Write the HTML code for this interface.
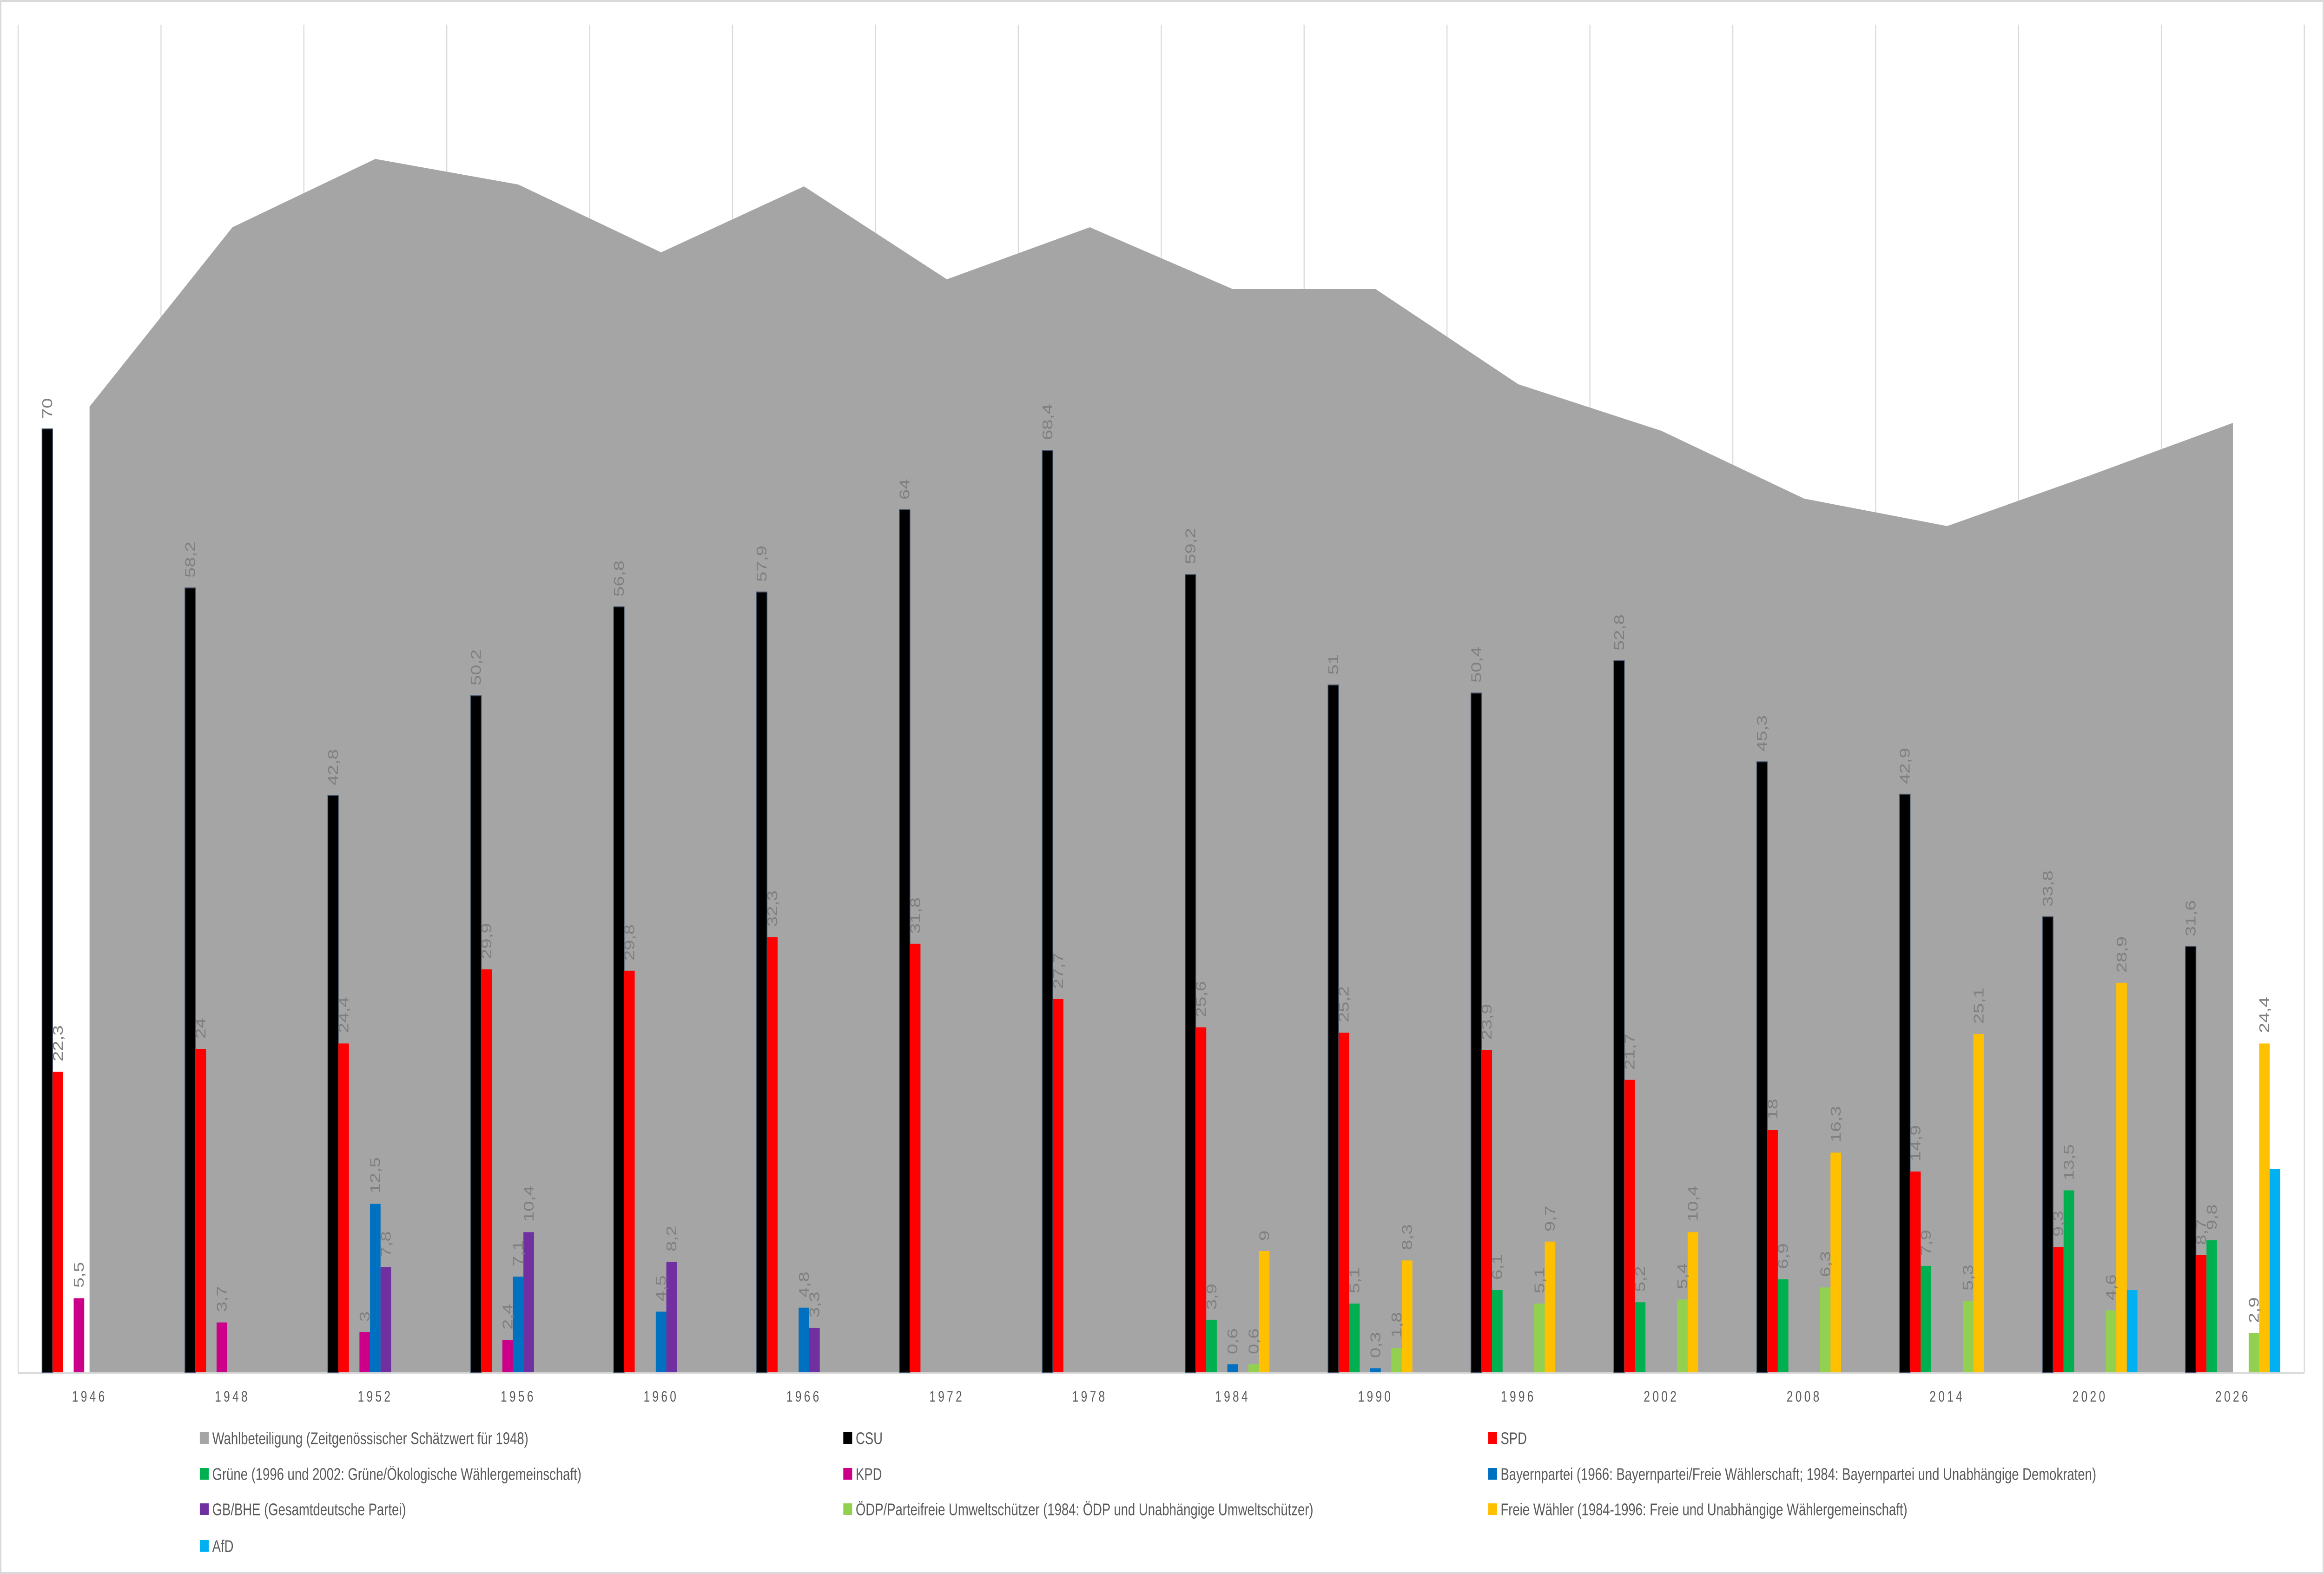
<!DOCTYPE html>
<html><head><meta charset="utf-8"><style>
html,body{margin:0;padding:0;background:#fff;overflow:hidden;width:100%;height:100%;}
svg{display:block;width:100vw;height:100vh;}
.l{font-family:"Liberation Sans",sans-serif;font-size:40px;fill:#7f7f7f;dominant-baseline:central;text-anchor:start;}
.ax{font-family:"Liberation Sans",sans-serif;font-size:32px;fill:#595959;text-anchor:middle;letter-spacing:7px;}
.lg{font-family:"Liberation Sans",sans-serif;font-size:36px;fill:#595959;dominant-baseline:central;}
</style></head><body>
<svg viewBox="0 0 6548 3387" preserveAspectRatio="none" xmlns="http://www.w3.org/2000/svg">
<rect x="2" y="2" width="6544" height="3383" fill="#fff" stroke="#d9d9d9" stroke-width="4"/>
<g stroke="#d9d9d9" stroke-width="3">
<line x1="51" y1="53" x2="51" y2="2953"/><line x1="453.6" y1="53" x2="453.6" y2="2953"/><line x1="856.2" y1="53" x2="856.2" y2="2953"/><line x1="1258.8" y1="53" x2="1258.8" y2="2953"/><line x1="1661.4" y1="53" x2="1661.4" y2="2953"/><line x1="2064" y1="53" x2="2064" y2="2953"/><line x1="2466.6" y1="53" x2="2466.6" y2="2953"/><line x1="2869.2" y1="53" x2="2869.2" y2="2953"/><line x1="3271.8" y1="53" x2="3271.8" y2="2953"/><line x1="3674.4" y1="53" x2="3674.4" y2="2953"/><line x1="4077" y1="53" x2="4077" y2="2953"/><line x1="4479.6" y1="53" x2="4479.6" y2="2953"/><line x1="4882.2" y1="53" x2="4882.2" y2="2953"/><line x1="5284.8" y1="53" x2="5284.8" y2="2953"/><line x1="5687.4" y1="53" x2="5687.4" y2="2953"/><line x1="6090" y1="53" x2="6090" y2="2953"/><line x1="6492.6" y1="53" x2="6492.6" y2="2953"/>
</g>
<polygon fill="#a5a5a5" points="252.3,2953 252.3,875 654.9,489 1057.5,342 1460.1,397 1862.7,543 2265.3,401 2667.9,601 3070.5,489 3473.1,622 3875.7,622 4278.3,827 4680.9,927 5083.5,1073 5486.1,1132 5888.7,1023 6291.3,910 6291.3,2953"/>
<line x1="51" y1="2955" x2="6493" y2="2955" stroke="#d9d9d9" stroke-width="4"/>

<g transform="translate(118.5,0)">
<rect x="0" y="923" width="29.7" height="2030" fill="#000" stroke="#44546a" stroke-width="2"/>
<rect x="29.7" y="2306.3" width="29.7" height="646.7" fill="#ff0000"/>
<rect x="89.1" y="2793.5" width="29.7" height="159.5" fill="#cc0088"/>
<text class="l" transform="translate(14.85,901) rotate(-90)">70</text>
<text class="l" transform="translate(44.55,2284) rotate(-90)">22,3</text>
<text class="l" transform="translate(103.95,2771) rotate(-90)">5,5</text>
</g>
<g transform="translate(521.1,0)">
<rect x="0" y="1265.2" width="29.7" height="1687.8" fill="#000" stroke="#44546a" stroke-width="2"/>
<rect x="29.7" y="2257" width="29.7" height="696" fill="#ff0000"/>
<rect x="89.1" y="2845.7" width="29.7" height="107.3" fill="#cc0088"/>
<text class="l" transform="translate(14.85,1243) rotate(-90)">58,2</text>
<text class="l" transform="translate(44.55,2235) rotate(-90)">24</text>
<text class="l" transform="translate(103.95,2823) rotate(-90)">3,7</text>
</g>
<g transform="translate(923.7,0)">
<rect x="0" y="1711.8" width="29.7" height="1241.2" fill="#000" stroke="#44546a" stroke-width="2"/>
<rect x="29.7" y="2245.4" width="29.7" height="707.6" fill="#ff0000"/>
<rect x="89.1" y="2866" width="29.7" height="87" fill="#cc0088"/>
<rect x="118.8" y="2590.5" width="29.7" height="362.5" fill="#0070c0"/>
<rect x="148.5" y="2726.8" width="29.7" height="226.2" fill="#7030a0"/>
<text class="l" transform="translate(14.85,1690) rotate(-90)">42,8</text>
<text class="l" transform="translate(44.55,2223) rotate(-90)">24,4</text>
<text class="l" transform="translate(103.95,2844) rotate(-90)">3</text>
<text class="l" transform="translate(133.65,2568) rotate(-90)">12,5</text>
<text class="l" transform="translate(163.35,2705) rotate(-90)">7,8</text>
</g>
<g transform="translate(1326.3,0)">
<rect x="0" y="1497.2" width="29.7" height="1455.8" fill="#000" stroke="#44546a" stroke-width="2"/>
<rect x="29.7" y="2085.9" width="29.7" height="867.1" fill="#ff0000"/>
<rect x="89.1" y="2883.4" width="29.7" height="69.6" fill="#cc0088"/>
<rect x="118.8" y="2747.1" width="29.7" height="205.9" fill="#0070c0"/>
<rect x="148.5" y="2651.4" width="29.7" height="301.6" fill="#7030a0"/>
<text class="l" transform="translate(14.85,1475) rotate(-90)">50,2</text>
<text class="l" transform="translate(44.55,2064) rotate(-90)">29,9</text>
<text class="l" transform="translate(103.95,2861) rotate(-90)">2,4</text>
<text class="l" transform="translate(133.65,2725) rotate(-90)">7,1</text>
<text class="l" transform="translate(163.35,2629) rotate(-90)">10,4</text>
</g>
<g transform="translate(1728.9,0)">
<rect x="0" y="1305.8" width="29.7" height="1647.2" fill="#000" stroke="#44546a" stroke-width="2"/>
<rect x="29.7" y="2088.8" width="29.7" height="864.2" fill="#ff0000"/>
<rect x="118.8" y="2822.5" width="29.7" height="130.5" fill="#0070c0"/>
<rect x="148.5" y="2715.2" width="29.7" height="237.8" fill="#7030a0"/>
<text class="l" transform="translate(14.85,1284) rotate(-90)">56,8</text>
<text class="l" transform="translate(44.55,2067) rotate(-90)">29,8</text>
<text class="l" transform="translate(133.65,2800) rotate(-90)">4,5</text>
<text class="l" transform="translate(163.35,2693) rotate(-90)">8,2</text>
</g>
<g transform="translate(2131.5,0)">
<rect x="0" y="1273.9" width="29.7" height="1679.1" fill="#000" stroke="#44546a" stroke-width="2"/>
<rect x="29.7" y="2016.3" width="29.7" height="936.7" fill="#ff0000"/>
<rect x="118.8" y="2813.8" width="29.7" height="139.2" fill="#0070c0"/>
<rect x="148.5" y="2857.3" width="29.7" height="95.7" fill="#7030a0"/>
<text class="l" transform="translate(14.85,1252) rotate(-90)">57,9</text>
<text class="l" transform="translate(44.55,1994) rotate(-90)">32,3</text>
<text class="l" transform="translate(133.65,2792) rotate(-90)">4,8</text>
<text class="l" transform="translate(163.35,2835) rotate(-90)">3,3</text>
</g>
<g transform="translate(2534.1,0)">
<rect x="0" y="1097" width="29.7" height="1856" fill="#000" stroke="#44546a" stroke-width="2"/>
<rect x="29.7" y="2030.8" width="29.7" height="922.2" fill="#ff0000"/>
<text class="l" transform="translate(14.85,1075) rotate(-90)">64</text>
<text class="l" transform="translate(44.55,2009) rotate(-90)">31,8</text>
</g>
<g transform="translate(2936.7,0)">
<rect x="0" y="969.4" width="29.7" height="1983.6" fill="#000" stroke="#44546a" stroke-width="2"/>
<rect x="29.7" y="2149.7" width="29.7" height="803.3" fill="#ff0000"/>
<text class="l" transform="translate(14.85,947) rotate(-90)">68,4</text>
<text class="l" transform="translate(44.55,2128) rotate(-90)">27,7</text>
</g>
<g transform="translate(3339.3,0)">
<rect x="0" y="1236.2" width="29.7" height="1716.8" fill="#000" stroke="#44546a" stroke-width="2"/>
<rect x="29.7" y="2210.6" width="29.7" height="742.4" fill="#ff0000"/>
<rect x="59.4" y="2839.9" width="29.7" height="113.1" fill="#00b050"/>
<rect x="118.8" y="2935.6" width="29.7" height="17.4" fill="#0070c0"/>
<rect x="178.2" y="2935.6" width="29.7" height="17.4" fill="#92d050"/>
<rect x="207.9" y="2692" width="29.7" height="261" fill="#ffc000"/>
<text class="l" transform="translate(14.85,1214) rotate(-90)">59,2</text>
<text class="l" transform="translate(44.55,2189) rotate(-90)">25,6</text>
<text class="l" transform="translate(74.25,2818) rotate(-90)">3,9</text>
<text class="l" transform="translate(133.65,2914) rotate(-90)">0,6</text>
<text class="l" transform="translate(193.05,2914) rotate(-90)">0,6</text>
<text class="l" transform="translate(222.75,2670) rotate(-90)">9</text>
</g>
<g transform="translate(3741.9,0)">
<rect x="0" y="1474" width="29.7" height="1479" fill="#000" stroke="#44546a" stroke-width="2"/>
<rect x="29.7" y="2222.2" width="29.7" height="730.8" fill="#ff0000"/>
<rect x="59.4" y="2805.1" width="29.7" height="147.9" fill="#00b050"/>
<rect x="118.8" y="2944.3" width="29.7" height="8.7" fill="#0070c0"/>
<rect x="178.2" y="2900.8" width="29.7" height="52.2" fill="#92d050"/>
<rect x="207.9" y="2712.3" width="29.7" height="240.7" fill="#ffc000"/>
<text class="l" transform="translate(14.85,1452) rotate(-90)">51</text>
<text class="l" transform="translate(44.55,2200) rotate(-90)">25,2</text>
<text class="l" transform="translate(74.25,2783) rotate(-90)">5,1</text>
<text class="l" transform="translate(133.65,2922) rotate(-90)">0,3</text>
<text class="l" transform="translate(193.05,2879) rotate(-90)">1,8</text>
<text class="l" transform="translate(222.75,2690) rotate(-90)">8,3</text>
</g>
<g transform="translate(4144.5,0)">
<rect x="0" y="1491.4" width="29.7" height="1461.6" fill="#000" stroke="#44546a" stroke-width="2"/>
<rect x="29.7" y="2259.9" width="29.7" height="693.1" fill="#ff0000"/>
<rect x="59.4" y="2776.1" width="29.7" height="176.9" fill="#00b050"/>
<rect x="178.2" y="2805.1" width="29.7" height="147.9" fill="#92d050"/>
<rect x="207.9" y="2671.7" width="29.7" height="281.3" fill="#ffc000"/>
<text class="l" transform="translate(14.85,1469) rotate(-90)">50,4</text>
<text class="l" transform="translate(44.55,2238) rotate(-90)">23,9</text>
<text class="l" transform="translate(74.25,2754) rotate(-90)">6,1</text>
<text class="l" transform="translate(193.05,2783) rotate(-90)">5,1</text>
<text class="l" transform="translate(222.75,2650) rotate(-90)">9,7</text>
</g>
<g transform="translate(4547.1,0)">
<rect x="0" y="1421.8" width="29.7" height="1531.2" fill="#000" stroke="#44546a" stroke-width="2"/>
<rect x="29.7" y="2323.7" width="29.7" height="629.3" fill="#ff0000"/>
<rect x="59.4" y="2802.2" width="29.7" height="150.8" fill="#00b050"/>
<rect x="178.2" y="2796.4" width="29.7" height="156.6" fill="#92d050"/>
<rect x="207.9" y="2651.4" width="29.7" height="301.6" fill="#ffc000"/>
<text class="l" transform="translate(14.85,1400) rotate(-90)">52,8</text>
<text class="l" transform="translate(44.55,2302) rotate(-90)">21,7</text>
<text class="l" transform="translate(74.25,2780) rotate(-90)">5,2</text>
<text class="l" transform="translate(193.05,2774) rotate(-90)">5,4</text>
<text class="l" transform="translate(222.75,2629) rotate(-90)">10,4</text>
</g>
<g transform="translate(4949.7,0)">
<rect x="0" y="1639.3" width="29.7" height="1313.7" fill="#000" stroke="#44546a" stroke-width="2"/>
<rect x="29.7" y="2431" width="29.7" height="522" fill="#ff0000"/>
<rect x="59.4" y="2752.9" width="29.7" height="200.1" fill="#00b050"/>
<rect x="178.2" y="2770.3" width="29.7" height="182.7" fill="#92d050"/>
<rect x="207.9" y="2480.3" width="29.7" height="472.7" fill="#ffc000"/>
<text class="l" transform="translate(14.85,1617) rotate(-90)">45,3</text>
<text class="l" transform="translate(44.55,2409) rotate(-90)">18</text>
<text class="l" transform="translate(74.25,2731) rotate(-90)">6,9</text>
<text class="l" transform="translate(193.05,2748) rotate(-90)">6,3</text>
<text class="l" transform="translate(222.75,2458) rotate(-90)">16,3</text>
</g>
<g transform="translate(5352.3,0)">
<rect x="0" y="1708.9" width="29.7" height="1244.1" fill="#000" stroke="#44546a" stroke-width="2"/>
<rect x="29.7" y="2520.9" width="29.7" height="432.1" fill="#ff0000"/>
<rect x="59.4" y="2723.9" width="29.7" height="229.1" fill="#00b050"/>
<rect x="178.2" y="2799.3" width="29.7" height="153.7" fill="#92d050"/>
<rect x="207.9" y="2225.1" width="29.7" height="727.9" fill="#ffc000"/>
<text class="l" transform="translate(14.85,1687) rotate(-90)">42,9</text>
<text class="l" transform="translate(44.55,2499) rotate(-90)">14,9</text>
<text class="l" transform="translate(74.25,2702) rotate(-90)">7,9</text>
<text class="l" transform="translate(193.05,2777) rotate(-90)">5,3</text>
<text class="l" transform="translate(222.75,2203) rotate(-90)">25,1</text>
</g>
<g transform="translate(5754.9,0)">
<rect x="0" y="1972.8" width="29.7" height="980.2" fill="#000" stroke="#44546a" stroke-width="2"/>
<rect x="29.7" y="2683.3" width="29.7" height="269.7" fill="#ff0000"/>
<rect x="59.4" y="2561.5" width="29.7" height="391.5" fill="#00b050"/>
<rect x="178.2" y="2819.6" width="29.7" height="133.4" fill="#92d050"/>
<rect x="207.9" y="2114.9" width="29.7" height="838.1" fill="#ffc000"/>
<rect x="237.6" y="2776.1" width="29.7" height="176.9" fill="#00b0f0"/>
<text class="l" transform="translate(14.85,1951) rotate(-90)">33,8</text>
<text class="l" transform="translate(44.55,2661) rotate(-90)">9,3</text>
<text class="l" transform="translate(74.25,2540) rotate(-90)">13,5</text>
<text class="l" transform="translate(193.05,2798) rotate(-90)">4,6</text>
<text class="l" transform="translate(222.75,2093) rotate(-90)">28,9</text>
</g>
<g transform="translate(6157.5,0)">
<rect x="0" y="2036.6" width="29.7" height="916.4" fill="#000" stroke="#44546a" stroke-width="2"/>
<rect x="29.7" y="2700.7" width="29.7" height="252.3" fill="#ff0000"/>
<rect x="59.4" y="2668.8" width="29.7" height="284.2" fill="#00b050"/>
<rect x="178.2" y="2868.9" width="29.7" height="84.1" fill="#92d050"/>
<rect x="207.9" y="2245.4" width="29.7" height="707.6" fill="#ffc000"/>
<rect x="237.6" y="2515.1" width="29.7" height="437.9" fill="#00b0f0"/>
<text class="l" transform="translate(14.85,2015) rotate(-90)">31,6</text>
<text class="l" transform="translate(44.55,2679) rotate(-90)">8,7</text>
<text class="l" transform="translate(74.25,2647) rotate(-90)">9,8</text>
<text class="l" transform="translate(193.05,2847) rotate(-90)">2,9</text>
<text class="l" transform="translate(222.75,2223) rotate(-90)">24,4</text>
</g>

<g>
<text class="ax" x="252.3" y="3016">1946</text><text class="ax" x="654.9" y="3016">1948</text><text class="ax" x="1057.5" y="3016">1952</text><text class="ax" x="1460.1" y="3016">1956</text><text class="ax" x="1862.7" y="3016">1960</text><text class="ax" x="2265.3" y="3016">1966</text><text class="ax" x="2667.9" y="3016">1972</text><text class="ax" x="3070.5" y="3016">1978</text><text class="ax" x="3473.1" y="3016">1984</text><text class="ax" x="3875.7" y="3016">1990</text><text class="ax" x="4278.3" y="3016">1996</text><text class="ax" x="4680.9" y="3016">2002</text><text class="ax" x="5083.5" y="3016">2008</text><text class="ax" x="5486.1" y="3016">2014</text><text class="ax" x="5888.7" y="3016">2020</text><text class="ax" x="6291.3" y="3016">2026</text>
</g>

<rect x="563" y="3082" width="25" height="25" fill="#a5a5a5"/><text class="lg" x="598" y="3095">Wahlbeteiligung (Zeitgenössischer Schätzwert für 1948)</text>
<rect x="2376" y="3082" width="25" height="25" fill="#000"/><text class="lg" x="2411" y="3095">CSU</text>
<rect x="4193" y="3082" width="25" height="25" fill="#ff0000"/><text class="lg" x="4228" y="3095">SPD</text>
<rect x="563" y="3159" width="25" height="25" fill="#00b050"/><text class="lg" x="598" y="3172">Grüne (1996 und 2002: Grüne/Ökologische Wählergemeinschaft)</text>
<rect x="2376" y="3159" width="25" height="25" fill="#cc0088"/><text class="lg" x="2411" y="3172">KPD</text>
<rect x="4193" y="3159" width="25" height="25" fill="#0070c0"/><text class="lg" x="4228" y="3172">Bayernpartei (1966: Bayernpartei/Freie Wählerschaft; 1984: Bayernpartei und Unabhängige Demokraten)</text>
<rect x="563" y="3235" width="25" height="25" fill="#7030a0"/><text class="lg" x="598" y="3248">GB/BHE (Gesamtdeutsche Partei)</text>
<rect x="2376" y="3235" width="25" height="25" fill="#92d050"/><text class="lg" x="2411" y="3248">ÖDP/Parteifreie Umweltschützer (1984: ÖDP und Unabhängige Umweltschützer)</text>
<rect x="4193" y="3235" width="25" height="25" fill="#ffc000"/><text class="lg" x="4228" y="3248">Freie Wähler (1984-1996: Freie und Unabhängige Wählergemeinschaft)</text>
<rect x="563" y="3314" width="25" height="25" fill="#00b0f0"/><text class="lg" x="598" y="3327">AfD</text>
</svg>
</body></html>
